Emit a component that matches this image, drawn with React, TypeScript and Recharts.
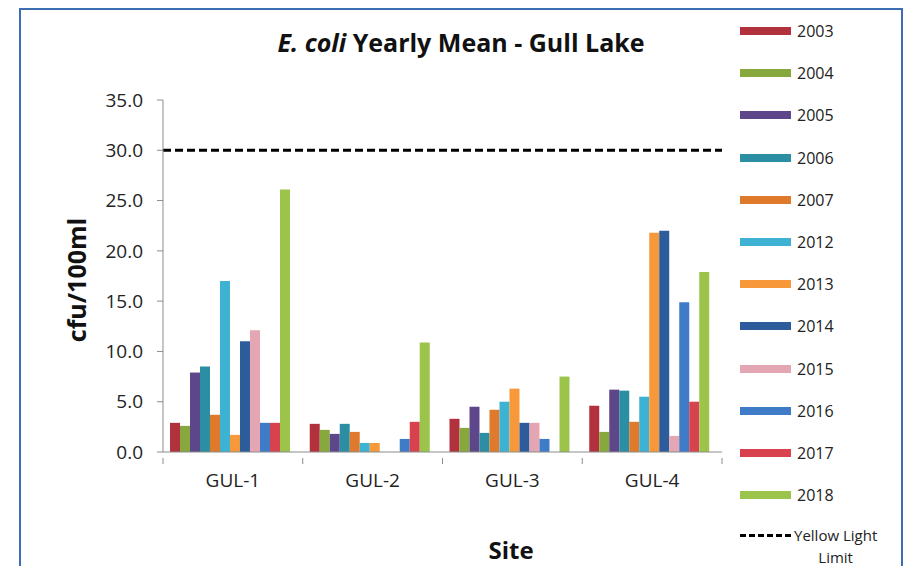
import React from "react";
import { BarChart, Bar, XAxis, YAxis, ReferenceLine } from "recharts";

const SITES = ["GUL-1", "GUL-2", "GUL-3", "GUL-4"];
const YEARS = ["2003", "2004", "2005", "2006", "2007", "2012", "2013", "2014", "2015", "2016", "2017", "2018"];

// one array per year, values in site order
const Y2003 = [2.9, 2.8, 3.3, 4.6];
const Y2004 = [2.6, 2.2, 2.4, 2.0];
const Y2005 = [7.9, 1.8, 4.5, 6.2];
const Y2006 = [8.5, 2.8, 1.9, 6.1];
const Y2007 = [3.7, 2.0, 4.2, 3.0];
const Y2012 = [17.0, 0.9, 5.0, 5.5];
const Y2013 = [1.7, 0.9, 6.3, 21.8];
const Y2014 = [11.0, null, 2.9, 22.0];
const Y2015 = [12.1, null, 2.9, 1.6];
const Y2016 = [2.9, 1.3, 1.3, 14.9];
const Y2017 = [2.9, 3.0, null, 5.0];
const Y2018 = [26.1, 10.9, 7.5, 17.9];

const SERIES = [Y2003, Y2004, Y2005, Y2006, Y2007, Y2012, Y2013, Y2014, Y2015, Y2016, Y2017, Y2018];

const Y_TICKS = [0, 5, 10, 15, 20, 25, 30, 35];
const YELLOW_LIGHT_LIMIT = 30;

const COLORS = [
  "#b1323d", // 2003
  "#86a83c", // 2004
  "#5d4689", // 2005
  "#2b8ea2", // 2006
  "#df7a2c", // 2007
  "#3db2d2", // 2012
  "#f7993a", // 2013
  "#2d5c9c", // 2014
  "#e4a6b2", // 2015
  "#3f7cc8", // 2016
  "#d8424f", // 2017
  "#9cc44b", // 2018
];

const data = SITES.map((site, i) => {
  const row: Record<string, string | number | null> = { site };
  YEARS.forEach((year, j) => {
    row[year] = SERIES[j][i];
  });
  return row;
});

const FONT = "'Open Sans', 'Liberation Sans', sans-serif";

// category label plus Excel-style tick marks on the band edges
function SiteTick(props: any) {
  const { x, y, payload, index } = props;
  const half = payload?.offset ?? 0;
  const axisY = y - 16;
  return (
    <g>
      <line x1={x - half} x2={x - half} y1={axisY} y2={axisY + 6} stroke="#8c8c8c" />
      {index === SITES.length - 1 && (
        <line x1={x + half} x2={x + half} y1={axisY} y2={axisY + 6} stroke="#8c8c8c" />
      )}
      <text x={x} y={y} dy="0.71em" textAnchor="middle" fontSize={19} fill="#222" fontFamily={FONT}>
        {payload.value}
      </text>
    </g>
  );
}

function LegendBox() {
  return (
    <div style={{ position: "absolute", left: 740, top: 10, fontFamily: FONT, fontSize: 16, color: "#222" }}>
      {YEARS.map((year, i) => (
        <div key={year} style={{ display: "flex", alignItems: "center", height: 42.2 }}>
          <div style={{ width: 51, height: 8, background: COLORS[i], marginRight: 6 }} />
          <span>{year}</span>
        </div>
      ))}
      <div style={{ display: "flex", alignItems: "flex-start", marginTop: 8 }}>
        <div style={{ width: 51, borderTop: "3px dashed #000", marginTop: 10, marginRight: 3 }} />
        <span style={{ lineHeight: "22px", textAlign: "center", fontSize: 15 }}>
          Yellow Light
          <br />
          Limit
        </span>
      </div>
    </div>
  );
}

export default function App() {
  return (
    <div
      style={{
        position: "absolute",
        left: 0,
        top: 0,
        width: 907,
        height: 566,
        overflow: "hidden",
        background: "#fff",
        fontFamily: FONT,
      }}
    >
      <div
        style={{
          position: "absolute",
          left: 19,
          top: 8,
          width: 880,
          height: 600,
          border: "2px solid #3d6db3",
        }}
      />
      <div
        style={{
          position: "absolute",
          left: 163,
          width: 596,
          top: 25,
          textAlign: "center",
          fontSize: 25,
          fontWeight: 700,
          color: "#111",
        }}
      >
        <i>E. coli</i> Yearly Mean - Gull Lake
      </div>
      <div
        style={{
          position: "absolute",
          left: 76,
          top: 280,
          transform: "translate(-50%, -50%) rotate(-90deg)",
          fontSize: 25,
          fontWeight: 700,
          color: "#111",
          whiteSpace: "nowrap",
        }}
      >
        cfu/100ml
      </div>
      <div
        style={{
          position: "absolute",
          left: 411,
          width: 200,
          top: 533,
          textAlign: "center",
          fontSize: 24,
          fontWeight: 700,
          color: "#111",
        }}
      >
        Site
      </div>
      <BarChart
        width={907}
        height={566}
        data={data}
        margin={{ top: 100, right: 185, bottom: 74, left: 103 }}
        barCategoryGap="5%"
        barGap={0}
        style={{ position: "absolute", left: 0, top: 0 }}
      >
        <XAxis
          dataKey="site"
          tickLine={false}
          axisLine={{ stroke: "#8c8c8c" }}
          tick={<SiteTick />}
          tickMargin={16}
          height={40}
          interval={0}
        />
        <YAxis
          width={60}
          domain={[0, 35]}
          ticks={Y_TICKS}
          tickFormatter={(v: number) => v.toFixed(1)}
          tickSize={6}
          tickMargin={14}
          tickLine={{ stroke: "#8c8c8c" }}
          axisLine={{ stroke: "#8c8c8c" }}
          tick={{ fontSize: 19, fill: "#222", fontFamily: FONT }}
          allowDataOverflow
        />
        {YEARS.map((year, i) => (
          <Bar key={year} dataKey={year} fill={COLORS[i]} isAnimationActive={false} />
        ))}
        <ReferenceLine y={YELLOW_LIGHT_LIMIT} stroke="#000" strokeWidth={3} strokeDasharray="8 4" />
      </BarChart>
      <LegendBox />
    </div>
  );
}
